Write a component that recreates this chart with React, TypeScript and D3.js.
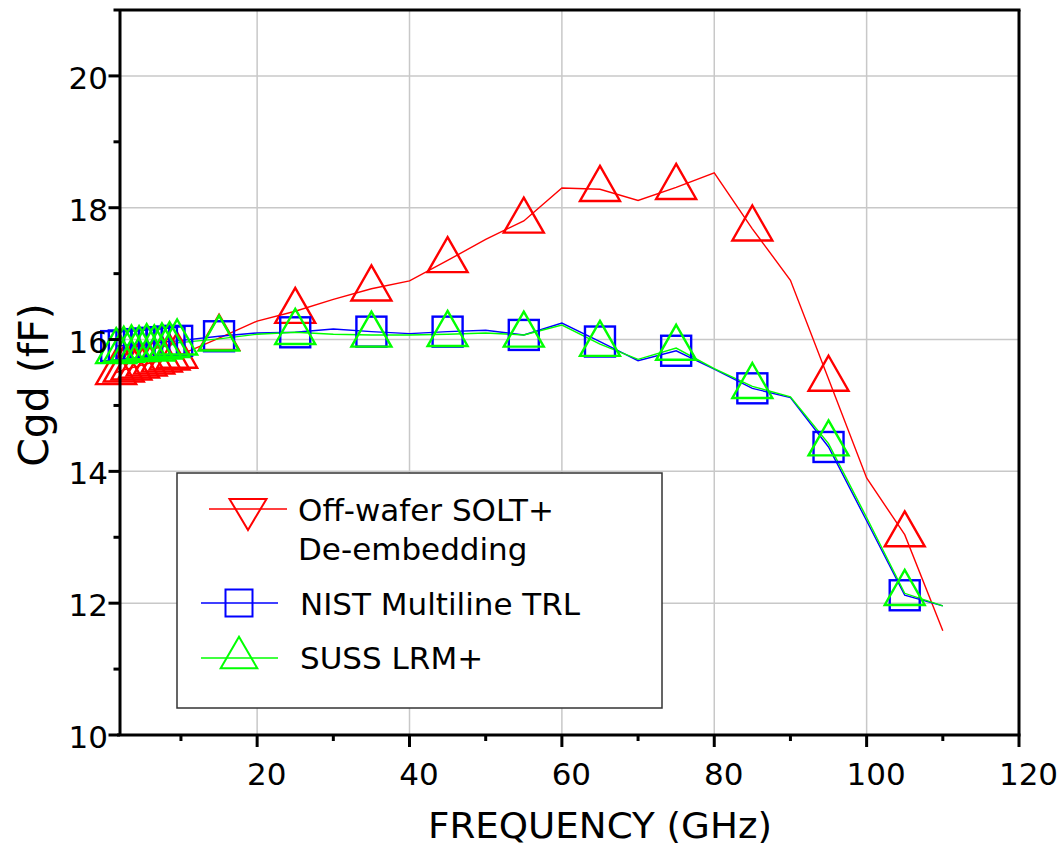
import React from 'react';
import * as d3 from 'd3';

// Frequencies (GHz) of the measured points
const freqGHz = [1.5, 2.5, 3.5, 4.5, 5.5, 6.5, 7.5, 8.5, 9.5, 15, 20, 25, 30, 35, 40, 45, 50, 55, 60, 65, 70, 75, 80, 85, 90, 95, 100, 105, 110];
// Frequencies at which a marker symbol is drawn
const markerFreqGHz = [1.5, 2.5, 3.5, 4.5, 5.5, 6.5, 7.5, 8.5, 9.5, 15, 25, 35, 45, 55, 65, 75, 85, 95, 105];

// Cgd (fF)
const soltDeembed = [15.50, 15.54, 15.57, 15.60, 15.63, 15.66, 15.69, 15.72, 15.75, 16.02, 16.28, 16.43, 16.61, 16.77, 16.89, 17.20, 17.52, 17.80, 18.30, 18.28, 18.11, 18.31, 18.53, 17.68, 16.90, 15.40, 13.90, 13.04, 11.58];
const nistTrl = [15.90, 15.91, 15.92, 15.93, 15.94, 15.95, 15.96, 15.97, 15.98, 16.05, 16.10, 16.11, 16.16, 16.12, 16.09, 16.12, 16.14, 16.07, 16.25, 15.97, 15.68, 15.83, 15.55, 15.26, 15.12, 14.37, 13.25, 12.12, 11.96];
const sussLrm = [15.82, 15.84, 15.86, 15.85, 15.88, 15.86, 15.89, 15.91, 15.95, 16.01, 16.08, 16.11, 16.08, 16.07, 16.07, 16.08, 16.10, 16.07, 16.22, 15.93, 15.70, 15.87, 15.56, 15.29, 15.13, 14.42, 13.30, 12.15, 11.96];

const yMajorTicks = [10, 12, 14, 16, 18, 20];
const yMinorTicks = [11, 13, 15, 17, 19, 21];
const xMajorTicks = [20, 40, 60, 80, 100, 120];
const xMinorTicks = [10, 30, 50, 70, 90, 110];

const FONT = "'DejaVu Sans', Verdana, sans-serif";

function triPath(cx: number, cy: number, w: number, h: number, up: boolean) {
  if (up) {
    return `M${cx},${cy - (2 * h) / 3}L${cx + w / 2},${cy + h / 3}L${cx - w / 2},${cy + h / 3}Z`;
  }
  return `M${cx},${cy + (2 * h) / 3}L${cx + w / 2},${cy - h / 3}L${cx - w / 2},${cy - h / 3}Z`;
}

export default function App() {
  const x = d3.scaleLinear().domain([2, 120]).range([120, 1019]);
  const y = d3.scaleLinear().domain([10, 21]).range([735, 10]);
  const left = x.range()[0];
  const right = x.range()[1];
  const top = y.range()[1];
  const bottom = y.range()[0];

  const lineGen = (vals: number[]) =>
    d3
      .line<number>()
      .x((_, i) => x(freqGHz[i]))
      .y((d) => y(d))(vals) || '';

  const markerIdx = freqGHz
    .map((f, i) => (markerFreqGHz.includes(f) ? i : -1))
    .filter((i) => i >= 0);

  const series = [
    { vals: soltDeembed, color: '#ff0000', kind: 'tri' },
    { vals: nistTrl, color: '#0000ff', kind: 'sq' },
    { vals: sussLrm, color: '#00ff00', kind: 'tri' },
  ];

  const TW = 40;
  const TH = 35;
  const SQ = 30;

  return (
    <div style={{ position: 'fixed', left: 0, top: 0, width: 1064, height: 847, background: '#fff' }}>
      <svg width={1064} height={847} style={{ display: 'block' }}>
        <rect x={0} y={0} width={1064} height={847} fill="#fff" />
        {/* grid */}
        {xMajorTicks
          .filter((t) => t < 120)
          .map((t) => (
            <line key={'gx' + t} x1={x(t)} x2={x(t)} y1={top} y2={bottom} stroke="#c8c8c8" strokeWidth={1.5} />
          ))}
        {yMajorTicks
          .filter((t) => t > 10)
          .map((t) => (
            <line key={'gy' + t} x1={left} x2={right} y1={y(t)} y2={y(t)} stroke="#c8c8c8" strokeWidth={1.5} />
          ))}

        {/* series lines */}
        {series.map((s, si) => (
          <path key={'l' + si} d={lineGen(s.vals)} fill="none" stroke={s.color} strokeWidth={1.4} />
        ))}
        {/* markers */}
        {series.map((s, si) => (
          <g key={'m' + si}>
            {markerIdx.map((i) => {
              const cx = x(freqGHz[i]);
              const cy = y(s.vals[i]);
              if (s.kind === 'sq') {
                return (
                  <rect key={i} x={cx - SQ / 2} y={cy - SQ / 2} width={SQ} height={SQ} fill="none" stroke={s.color} strokeWidth={2.4} />
                );
              }
              return <path key={i} d={triPath(cx, cy, TW, TH, true)} fill="none" stroke={s.color} strokeWidth={2.4} />;
            })}
          </g>
        ))}

        {/* frame / axes */}
        <line x1={left} x2={left} y1={top} y2={bottom} stroke="#000" strokeWidth={3} />
        <line x1={left - 3} x2={right + 1.5} y1={bottom} y2={bottom} stroke="#000" strokeWidth={3} />
        <line x1={left} x2={right + 1.5} y1={top} y2={top} stroke="#000" strokeWidth={3} />
        <line x1={right} x2={right} y1={top} y2={bottom} stroke="#000" strokeWidth={3} />

        {/* y ticks */}
        {yMajorTicks.map((t) => (
          <g key={'yt' + t}>
            <line x1={left - 11.5} x2={left} y1={y(t)} y2={y(t)} stroke="#000" strokeWidth={3} />
            <text x={left - 12} y={y(t) + 13} textAnchor="end" fontFamily={FONT} fontSize={31} fill="#000">
              {t}
            </text>
          </g>
        ))}
        {yMinorTicks.map((t) => (
          <line key={'ym' + t} x1={left - 6.5} x2={left} y1={y(t)} y2={y(t)} stroke="#000" strokeWidth={3} />
        ))}

        {/* x ticks */}
        {xMajorTicks.map((t) => (
          <g key={'xt' + t}>
            <line x1={x(t)} x2={x(t)} y1={bottom} y2={bottom + 12} stroke="#000" strokeWidth={3} />
            <text x={x(t) + 9.5} y={785} textAnchor="middle" fontFamily={FONT} fontSize={31} fill="#000">
              {t}
            </text>
          </g>
        ))}
        {xMinorTicks.map((t) => (
          <line key={'xm' + t} x1={x(t)} x2={x(t)} y1={bottom} y2={bottom + 6} stroke="#000" strokeWidth={3} />
        ))}

        {/* axis titles */}
        <text
          x={600}
          y={838}
          textAnchor="middle"
          fontFamily={FONT}
          fontSize={36}
          textLength={344}
          lengthAdjust="spacingAndGlyphs"
          fill="#000"
        >
          FREQUENCY (GHz)
        </text>
        <text
          transform="translate(48,385) rotate(-90)"
          textAnchor="middle"
          fontFamily={FONT}
          fontSize={41}
          fill="#000"
        >
          Cgd (fF)
        </text>

        {/* legend */}
        <rect x={177} y={473} width={485} height={235} fill="#fff" stroke="#333" strokeWidth={1.5} />
        <line x1={209} x2={287} y1={509} y2={509} stroke="#ff0000" strokeWidth={1.4} />
        <path d={triPath(248, 509.3, 37, 31, false)} fill="none" stroke="#ff0000" strokeWidth={2} />
        <text x={298} y={521} fontFamily={FONT} fontSize={31} fill="#000">
          Off-wafer SOLT+
        </text>
        <text x={298} y={560} fontFamily={FONT} fontSize={31} fill="#000">
          De-embedding
        </text>

        <line x1={201} x2={278} y1={603} y2={603} stroke="#0000ff" strokeWidth={1.4} />
        <rect x={225.5} y={589.5} width={27} height={27} fill="none" stroke="#0000ff" strokeWidth={2} />
        <text x={300} y={615} fontFamily={FONT} fontSize={31} fill="#000">
          NIST Multiline TRL
        </text>

        <line x1={201} x2={278} y1={658} y2={658} stroke="#00ff00" strokeWidth={1.4} />
        <path d={triPath(239, 657.8, 36.6, 31.6, true)} fill="none" stroke="#00ff00" strokeWidth={2} />
        <text x={300} y={669} fontFamily={FONT} fontSize={31} fill="#000">
          SUSS LRM+
        </text>
      </svg>
    </div>
  );
}
